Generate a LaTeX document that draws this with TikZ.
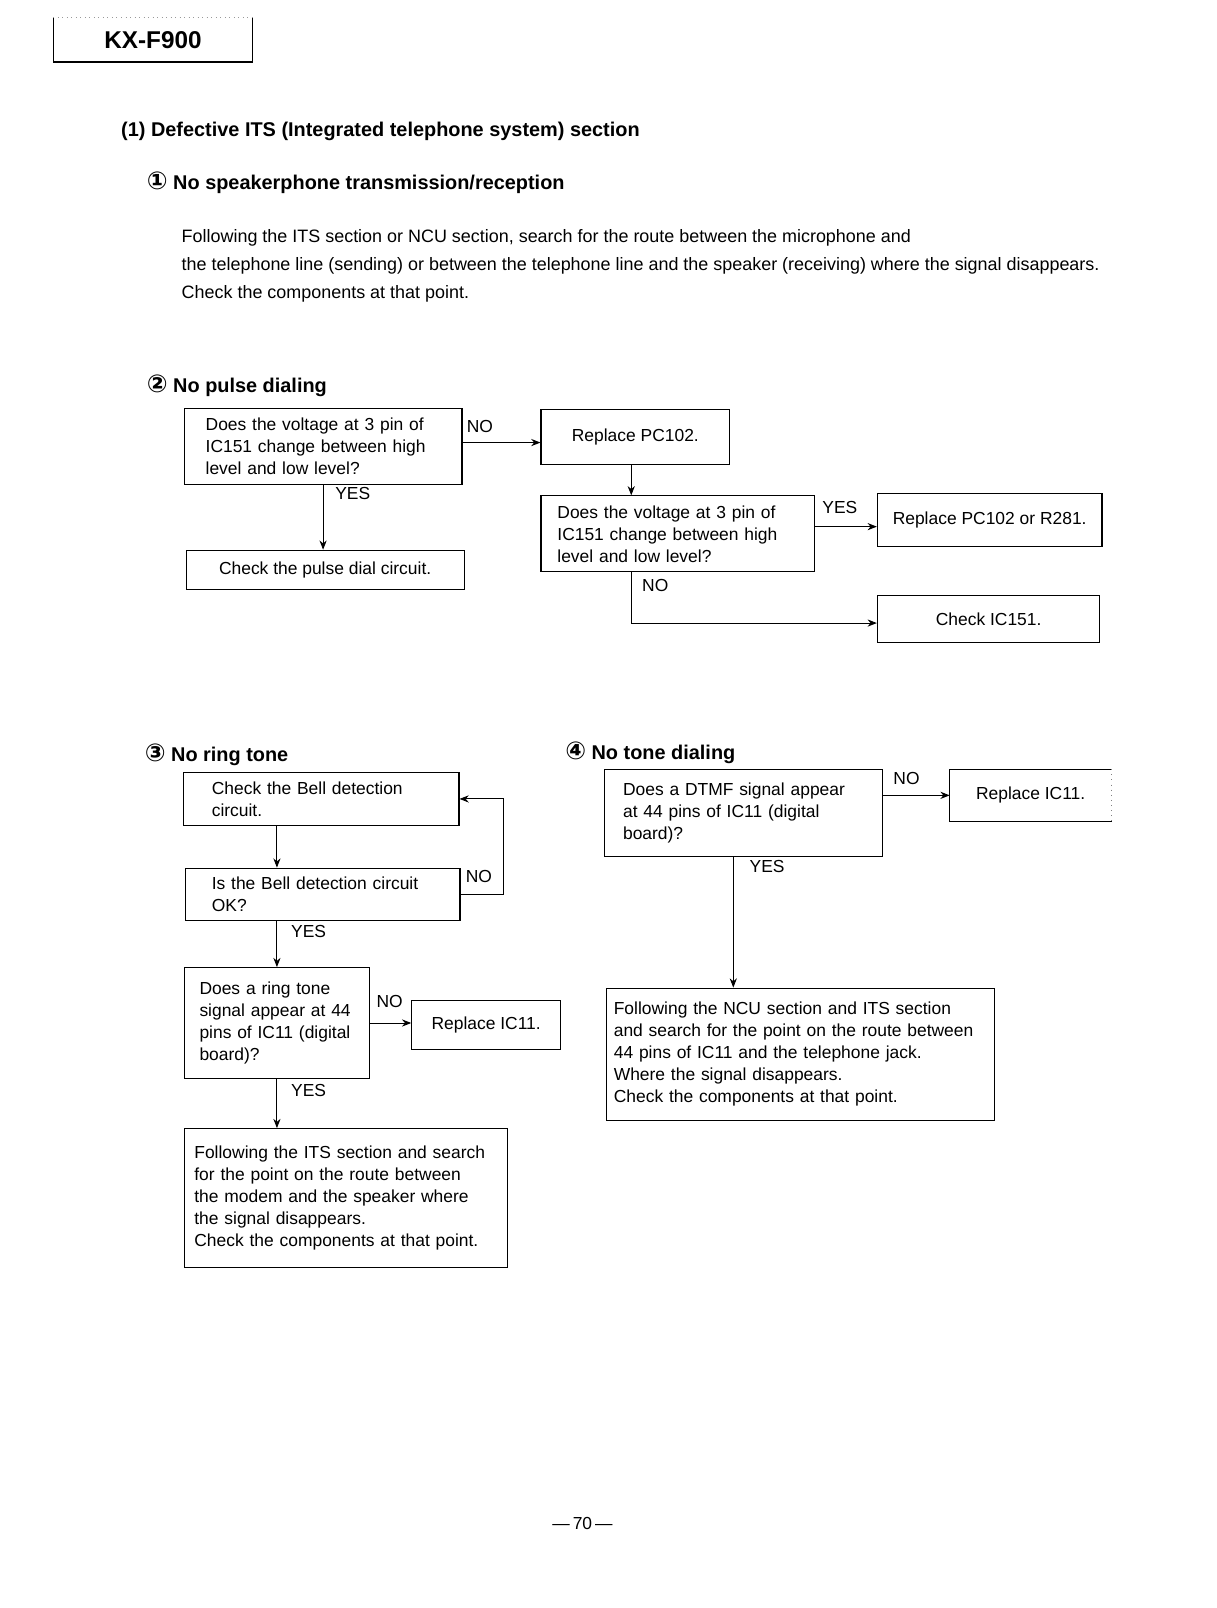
\documentclass[tikz,border=0pt]{standalone}
\usepackage{fontspec}
\setmainfont{Liberation Sans}
\newfontfamily\numfont{DejaVu Sans}
\usetikzlibrary{arrows.meta,calc,positioning}
\newcommand{\bx}{\fontsize{17}{21.5}\selectfont}
\newcommand{\pr}{\fontsize{17.5}{27.5}\selectfont}
\newcommand{\hd}{\bfseries\fontsize{19.4}{23}\selectfont}
\newcommand{\kx}{\bfseries\fontsize{23.7}{28}\selectfont}
\newcommand{\cn}[1]{{\numfont\fontsize{24}{24}\selectfont #1}}

\begin{document}
\begin{tikzpicture}[x=1pt, y=-1pt,
  box/.style={draw, line width=1.1pt, inner sep=0pt, anchor=north west, font=\bx},
  qbox/.style={box, align=left},
  abox/.style={box, align=center},
  yn/.style={font=\bx, inner sep=0pt},
  hd/.style={font=\hd, anchor=west, inner sep=0pt},
  link/.style={line width=0.9pt},
  >={Stealth[length=9pt,width=7pt]}]
\path[use as bounding box, fill=white] (0,0) rectangle (1186,1568);

% ================================================================== page head
\node[font=\kx, anchor=north west, inner sep=0pt, minimum width=194pt, minimum height=43pt] (model) at (52,17) {KX-F900};
\draw[line width=1.1pt] (model.north west) |- (model.south east) -- (model.north east);
\draw[black!40, loosely dotted] (model.north west) -- (model.north east);
\node[hd] (sec) at (118,128) {(1) Defective ITS (Integrated telephone system) section};
\node[hd] (h1) at (143,178) {\cn{①} No speakerphone transmission/reception};
\node[anchor=west, align=left, font=\pr, inner sep=0pt] (intro) at (177,259.5)
  {Following the ITS section or NCU section, search for the route between the microphone and\\
   the telephone line (sending) or between the telephone line and the speaker (receiving) where the signal disappears.\\
   Check the components at that point.};

% ================================================================== (2) pulse dialing
\node[hd] (h2) at (143,376) {\cn{②} No pulse dialing};
\node[qbox, minimum height=74pt, inner xsep=21pt, text width=229pt] (q1) at (179,398)
  {Does the voltage at 3 pin of\\IC151 change between high\\level and low level?};
\node[abox, minimum width=184pt, minimum height=53pt] (rp) at (527,399) {Replace PC102.};
\node[abox, minimum width=271pt, minimum height=38pt] (cp) at (181,536) {Check the pulse dial circuit.};
\node[qbox, minimum height=74pt, inner xsep=16pt, text width=235pt] (q2) at (527,483)
  {Does the voltage at 3 pin of\\IC151 change between high\\level and low level?};
\node[abox, minimum width=219pt, minimum height=51pt] (r281) at (855,481) {Replace PC102 or R281.};
\node[abox, minimum width=217pt, minimum height=46pt] (ic151) at (855,580) {Check IC151.};
\draw[link,->] ([yshift=4pt]q1.east) -- ([yshift=4pt]q1.east -| rp.west);
\draw[link,->] (q1.south) -- (q1.south |- cp.north);
\draw[link,->] ([xshift=-4pt]rp.south) -- ([xshift=-4pt]rp.south |- q2.north);
\draw[link,->] ([yshift=7pt]q2.east) -- ([yshift=7pt]q2.east -| r281.west);
\draw[link,->] ([xshift=-4pt]rp.south |- q2.south) |- ([yshift=-4pt]ic151.west);
\node[yn] (q1no) at (468,416) {NO};
\node[yn] (q1yes) at (344,481) {YES};
\node[yn] (q2yes) at (819,495) {YES};
\node[yn] (q2no) at (639,571) {NO};

% ================================================================== (3) ring tone
\node[hd] (h3) at (141,736) {\cn{③} No ring tone};
\node[qbox, minimum height=51pt, inner xsep=28pt, text width=213pt] (bell) at (178,753)
  {Check the Bell detection\\circuit.};
\node[qbox, minimum height=51pt, inner xsep=26pt, text width=216pt] (ok) at (180,846)
  {Is the Bell detection circuit\\OK?};
\node[qbox, minimum height=108pt, inner xsep=15pt, text width=151pt] (ring) at (179,943)
  {Does a ring tone\\signal appear at 44\\pins of IC11 (digital\\board)?};
\node[abox, minimum width=145pt, minimum height=48pt] (rpa) at (401,975) {Replace IC11.};
\node[qbox, minimum height=135pt, inner xsep=10pt, text width=295pt] (final) at (179,1100)
  {Following the ITS section and search\\for the point on the route between\\the modem and the speaker where\\the signal disappears.\\Check the components at that point.};
\draw[link,->] (bell.south -| ring.north) -- (ok.north -| ring.north);
\draw[link,->] (ok.east) -- ++(42,0) |- (bell.east);
\draw[link,->] (ok.south -| ring.north) -- (ring.north);
\draw[link,->] (ring.east) -- (ring.east -| rpa.west);
\draw[link,->] (ring.south) -- (ring.south |- final.north);
\node[yn] (okno) at (467,855) {NO};
\node[yn] (okyes) at (301,908) {YES};
\node[yn] (ringno) at (380,977) {NO};
\node[yn] (ringyes) at (301,1063) {YES};

% ================================================================== (4) tone dialing
\node[hd] (h4) at (551,734) {\cn{④} No tone dialing};
\node[qbox, minimum height=85pt, inner xsep=18pt, text width=235pt] (dtmf) at (589,750)
  {Does a DTMF signal appear\\at 44 pins of IC11 (digital\\board)?};
\node[abox, draw=none, minimum width=157pt, minimum height=50pt] (rpb) at (926,750) {Replace IC11.};
\draw[line width=1.1pt] (rpb.north east) -| (rpb.south west) -- (rpb.south east);
\draw[black!50, loosely dotted, line width=1pt] (rpb.north east) -- (rpb.south east);
\node[qbox, minimum height=129pt, inner xsep=7pt, text width=364pt] (ncu) at (591,963)
  {Following the NCU section and ITS section\\and search for the point on the route between\\44 pins of IC11 and the telephone jack.\\Where the signal disappears.\\Check the components at that point.};
\draw[link,->] (dtmf.east |- rpb.west) -- (rpb.west);
\draw[link,->] ([xshift=-10pt]dtmf.south) -- ([xshift=-10pt]dtmf.south |- ncu.north);
\node[yn] (dtmfno) at (884,759) {NO};
\node[yn] (dtmfyes) at (748,845) {YES};

\node[font=\bx] (page) at (568,1486) {\textemdash\,70\,\textemdash};
\end{tikzpicture}
\end{document}
